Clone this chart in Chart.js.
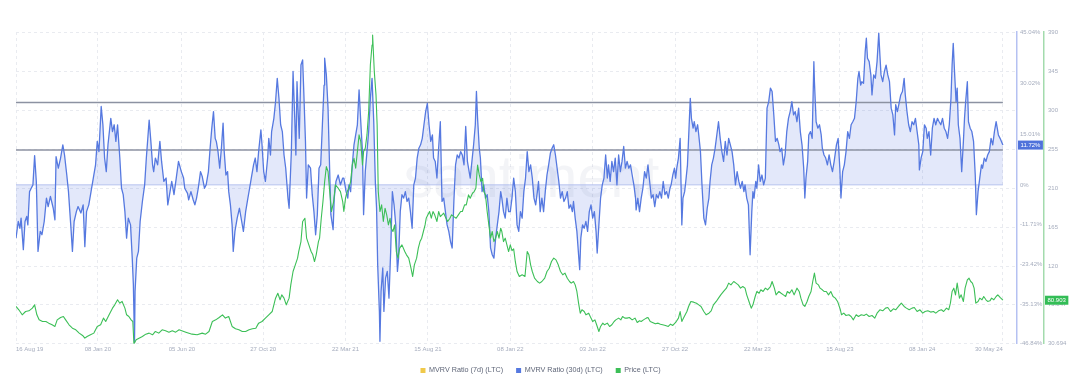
<!DOCTYPE html>
<html>
<head>
<meta charset="utf-8">
<title>LTC MVRV (30d) vs Price</title>
<script src="https://cdn.jsdelivr.net/npm/chart.js@4.4.1/dist/chart.umd.min.js"></script>
<style>
  html, body { margin: 0; padding: 0; background: #fff; }
</style>
</head>
<body>
<canvas id="chart" width="1081" height="386"></canvas>
<script>
// --- Data ---
// x values are days since the first date on the axis
const startDate = '2019-08-16';
const tickDates = ['2019-08-16', '2020-01-08', '2020-06-05', '2020-10-27', '2021-03-22', '2021-08-15',
    '2022-01-08', '2022-06-03', '2022-10-27', '2023-03-22', '2023-08-15', '2024-01-08', '2024-05-30'];

const mvrvTicks = [-46.84, -35.13, -23.42, -11.71, 0, 15.01, 30.02, 45.04];
const priceTicks = [30.694, 75.847, 120, 165, 210, 255, 300, 345, 390];

// horizontal reference levels on the MVRV axis (%)
const bandLevels = [24.3, 10.3];

// MVRV Ratio (7d) has no visible line in the picture
const mvrv7dDays = [];
const mvrv7d = [];

const mvrvDays = [
    0, 4, 7, 9, 13, 16, 19, 21, 24, 27,
    30, 33, 36, 39, 43, 46, 50, 54, 57, 61,
    66, 69, 71, 75, 79, 83, 86, 90, 93, 97,
    100, 103, 107, 110, 115, 119, 122, 125, 129, 133,
    137, 141, 144, 147, 151, 154, 157, 160, 163, 168,
    171, 174, 177, 180, 184, 187, 190, 193, 196, 199,
    203, 206, 208, 210, 211, 214, 217, 220, 224, 228,
    231, 236, 239, 242, 244, 247, 251, 255, 258, 262,
    266, 269, 273, 276, 280, 284, 288,
    293, 297, 299, 304, 306, 310, 314, 317, 320, 323,
    327, 330, 334, 337, 341, 344, 347, 350, 353, 355,
    358, 361, 364, 367, 369, 372, 375, 377, 380, 383,
    385, 388, 392, 396, 400, 403, 407, 410, 414, 417,
    421, 424, 427, 430, 434, 436, 439, 442, 446, 448,
    451, 453, 457, 460, 463, 466, 469, 472, 475, 478,
    482, 484, 488, 491, 494, 496, 498, 500, 502, 505,
    508, 510, 513, 515, 518, 522, 525, 528, 531, 534,
    537, 540, 543, 546, 547, 550, 553, 555, 558, 562,
    564, 567, 571, 575, 579,
    581, 585, 588, 590, 593, 596, 599, 602, 605, 608,
    611, 614, 616, 619, 622, 625, 628, 631, 634, 637,
    639, 641, 644, 645, 647, 650, 652, 655, 658, 661,
    664, 667, 670, 673, 676, 678, 681, 684, 687, 690,
    693, 696, 699, 702, 705, 708, 711, 714, 717, 720,
    723, 726, 729, 732, 735, 738, 740, 743, 746, 749,
    752, 755, 758, 761, 764, 767, 770, 773, 776, 779,
    782, 785, 788, 791, 794, 797, 800, 802, 805, 808,
    811, 814, 816, 818, 821, 823, 826, 829, 832, 835,
    838, 841, 844, 847, 850, 853, 856, 859, 861, 864,
    867, 870, 873,
    876, 879, 882, 885, 888, 891, 894, 897, 900, 903,
    906, 909, 912, 915, 918, 921, 924, 926, 929, 932,
    935, 938, 941, 944, 947, 950, 953, 956, 959, 962,
    965, 968, 971, 974, 977, 980, 983, 986, 988, 991,
    994, 997, 999, 1001, 1004, 1007, 1010, 1013, 1016, 1019,
    1022, 1025, 1028, 1030, 1033, 1036, 1039, 1042, 1045, 1048,
    1050, 1053, 1056, 1059, 1062, 1065, 1068, 1071, 1074, 1077,
    1080, 1083, 1086, 1089, 1092, 1095, 1098, 1099, 1102, 1105,
    1108, 1111, 1114, 1117, 1120, 1123, 1126, 1129, 1132, 1135,
    1138, 1141, 1144, 1147, 1150, 1153, 1156, 1159, 1161, 1164,
    1167,
    1169, 1171, 1174, 1177, 1180, 1182, 1185, 1187, 1190, 1193,
    1195, 1197, 1200, 1202, 1205, 1208, 1210, 1213, 1216, 1219,
    1222, 1225, 1228, 1230, 1233, 1236, 1239, 1242, 1245, 1248,
    1251, 1254, 1257, 1260, 1263, 1266, 1269, 1272, 1275, 1278,
    1281, 1284, 1287, 1290, 1292, 1295, 1298, 1301, 1304, 1306,
    1308, 1311, 1313, 1316, 1319, 1322, 1325, 1328, 1331, 1334,
    1337, 1340, 1343, 1346, 1349, 1352, 1354, 1357, 1360, 1363,
    1366, 1369, 1372, 1375, 1378, 1381, 1384, 1387, 1390, 1393,
    1396, 1398, 1400, 1403, 1405, 1408, 1411, 1414, 1415, 1418,
    1421, 1424, 1427, 1429, 1432, 1435, 1438, 1441, 1444, 1447,
    1450, 1454, 1457, 1460,
    1462, 1465, 1468, 1471, 1474, 1477, 1480, 1483, 1486, 1489,
    1492, 1494, 1497, 1499, 1502, 1505, 1507, 1509, 1512, 1515,
    1517, 1520, 1523, 1526, 1529, 1531, 1533, 1536, 1539, 1542,
    1545, 1548, 1551, 1554, 1557, 1559, 1562, 1565, 1568, 1571,
    1574, 1576, 1579, 1582, 1585, 1588, 1591, 1594, 1597, 1600,
    1601, 1604, 1607, 1610, 1613, 1615, 1618, 1621, 1624, 1627,
    1630, 1633, 1636, 1639, 1642, 1645, 1648, 1651, 1654, 1657,
    1659, 1661, 1663, 1666, 1668, 1670, 1673, 1676, 1679, 1681,
    1683, 1686, 1688, 1691, 1694, 1697, 1700, 1702, 1705, 1708,
    1711, 1713, 1716, 1719, 1722, 1725, 1728, 1731, 1734, 1737,
    1739, 1741, 1744, 1749
];

const mvrv30d = [
    -15.7, -10.8, -12.8, -9.8, -19.1, -10.8, -9.3, -11.8, -2.0, -1.0,
    0, 8.6, 1.0, -19.6, -13.7, -14.7, -10.8, -3.9, -6.4, -3.4,
    -6.9, -10.3, 8.3, 4.9, 7.9, 11.8, 8.8, 2.9, -2.0, -11.8,
    -19.6, -10.8, -7.9, -6.4, -8.3, -5.9, -18.2, -7.9, -5.9, -2.0,
    2.0, 5.9, 12.8, 9.8, 23.1, 17.7, 7.9, 3.9, 11.8, 19.6,
    15.7, 17.7, 12.8, 17.7, 7.9, -1.0, -2.9, -7.9, -15.7, -9.8,
    -11.8, -21.6, -29.4, -46.5, -31.4, -21.6, -19.6, -10.8, -4.9, 0,
    7.9, 19.1, 12.8, 5.9, 3.9, 7.9, 5.9, 12.8, 6.9, 1.0,
    2.0, -5.9, -2.0, 1.0, -2.9, 2.0, 6.9,
    3.9, 2.0, -1.0, -2.5, -4.4, -2.0, -4.4, -5.9, -3.9, -1.0,
    3.9, 2.5, -1.0, 0, 3.9, 10.8, 16.7, 21.6, 13.7, 12.8,
    9.8, 4.9, 10.8, 18.2, 9.8, 2.9, 3.9, -2.0, -5.9, -11.8,
    -19.6, -13.7, -9.8, -6.9, -10.8, -13.7, -7.9, -4.9, -1.0, 2.0,
    5.9, 7.9, 3.9, 9.8, 16.2, 11.8, 3.9, 1.0, 7.9, 13.7,
    8.8, 15.7, 19.6, 24.5, 31.4, 25.5, 17.7, 15.7, 8.8, 4.9,
    -3.9, -6.9, 9.8, 33.4, 19.6, 8.8, 30.4, 21.6, 13.7, 35.3,
    36.8, 27.5, 12.8, -3.9, 5.9, 4.9, -2.9, -7.9, -14.7, -8.8,
    4.9, 5.9, 17.7, 29.4, 37.3, 32.4, 22.6, 9.8, -8.8, -13.2,
    -3.9, 1.0, 2.9, 0, 2.0,
    2.0, -2.0, -3.9, 0, -2.0, 5.9, 11.8, 14.7, 17.7, 28.0,
    18.6, 9.8, -8.8, 3.9, 9.8, 15.7, 25.5, 31.4, 18.6, 0,
    -6.9, -23.6, -37.3, -46.1, -31.4, -24.5, -37.3, -27.5, -25.5, -33.4,
    -19.6, -2.0, -5.9, -11.8, -25.5, -21.6, -7.9, -2.9, -3.9, -2.0,
    -4.9, -3.9, -7.9, -12.8, 0, 2.0, 7.9, 10.8, 11.8, 13.7,
    17.7, 21.6, 24.0, 17.7, 12.8, 14.7, 7.9, 6.9, 2.0, 10.8,
    18.6, -4.9, -3.9, -7.9, -11.8, -13.7, -16.7, -18.6, -4.9, 5.9,
    8.8, 7.9, 9.8, 8.8, 5.9, 17.2, 6.9, 4.9, 2.0, 6.9,
    11.8, 17.7, 27.5, 19.6, 10.8, 7.9, -2.0, 0, -3.9, -2.9,
    -7.9, -18.6, -20.6, -21.6, -15.7, -11.8, -7.9, -2.0, -3.9, -7.9,
    -9.8, -3.9, -7.9,
    -7.9, -3.9, 2.0, -2.0, -11.8, -13.7, -7.9, -9.8, -2.0, 2.0,
    9.8, 3.9, 5.9, 2.0, -3.9, -5.9, -2.0, 1.0, -7.9, -3.9,
    -7.9, -2.0, 2.9, 5.9, 9.3, 10.8, 11.8, 8.8, 4.9, 1.0,
    -3.9, -2.0, -4.9, -3.9, -2.0, -6.9, -5.9, -7.9, -4.9, -9.8,
    -13.7, -20.6, -25.0, -15.7, -11.8, -12.8, -10.8, -13.7, -7.9, -5.9,
    -9.8, -7.9, -13.7, -20.1, -11.8, -3.9, 0, 2.0, 8.8, 2.0,
    5.9, 1.0, 6.9, 3.9, 7.9, 0, 8.8, 3.9, 6.9, 11.3,
    4.9, 6.9, 4.9, 5.9, 2.9, 0, -3.9, -7.4, -3.9, -7.9,
    -3.9, -1.0, 3.9, 2.0, 5.9, 1.0, -3.9, -2.9, -6.4, -2.9,
    -3.9, -2.0, -3.9, 1.0, -2.9, -2.0, -3.9, -1.0, 0, 2.9,
    4.9,
    2.0, 4.9, 7.9, 13.7, -11.8, -3.9, -2.0, 1.0, 5.9, 17.7,
    25.5, 19.6, 16.7, 18.6, 15.7, 17.7, 14.7, 9.8, -1.0, -9.8,
    -11.8, -6.9, -3.9, 1.0, 5.9, 7.9, 10.8, 14.7, 18.6, 13.7,
    9.8, 6.9, 12.8, 8.8, 13.7, 11.8, 9.8, 5.9, 0, 3.9,
    1.0, -1.0, 1.0, -2.0, 0, -3.9, -5.9, -20.6, -7.9, -2.0,
    -3.9, 1.0, -1.0, 5.9, 1.0, 2.9, 0, 2.0, 22.6, 24.5,
    28.5, 27.5, 20.6, 12.8, 13.7, 11.8, 9.8, 10.8, 5.9, 8.8,
    15.7, 19.6, 21.6, 24.5, 20.6, 21.6, 18.6, 22.6, 15.7, 11.8,
    4.9, -3.9, 2.0, 6.9, 14.7, 15.7, 13.7, 36.3, 30.4, 18.6,
    16.7, 17.7, 14.7, 10.8, 8.8, 7.9, 5.9, 8.8, 5.9, 3.9,
    6.9, 11.8, 13.7, 4.9,
    -3.9, 3.9, 5.9, 9.8, 15.7, 13.7, 17.7, 18.6, 19.6, 24.5,
    31.4, 33.4, 29.4, 30.4, 29.9, 39.3, 43.2, 37.3, 36.3, 32.4,
    26.5, 32.4, 31.4, 36.3, 44.7, 38.3, 32.4, 30.4, 33.4, 35.3,
    32.4, 30.4, 22.6, 20.6, 14.7, 23.6, 21.6, 24.0, 26.5, 27.5,
    31.4, 26.5, 21.6, 17.7, 15.7, 18.6, 17.7, 19.6, 15.7, 11.8,
    4.4, 7.9, 9.8, 17.7, 16.7, 13.7, 15.7, 8.8, 16.7, 19.6,
    17.7, 19.6, 18.6, 17.7, 19.6, 16.7, 15.7, 13.7, 17.7, 25.5,
    35.3, 41.7, 34.3, 24.5, 28.5, 17.7, 13.7, 3.9, 12.8, 19.6,
    24.5, 30.4, 18.6, 16.7, 15.7, 12.8, 2.9, -8.8, -2.0, 2.0,
    5.9, 4.9, 7.9, 6.9, 8.8, 9.8, 13.7, 11.8, 15.7, 18.6,
    16.7, 14.7, 13.7, 11.72
];

const priceDays = [
    0, 5, 11, 17, 23, 29, 33, 37, 41, 47,
    53, 58, 64, 69, 73, 79, 84, 88, 94, 100,
    106, 112, 118, 122, 126, 132, 138, 144, 150, 155,
    159, 165, 171, 175, 180, 184, 188, 193, 196, 200,
    204, 207, 209, 213, 218, 224, 230, 236, 242, 247,
    253, 259, 265, 271, 277, 283, 289,
    301, 312, 321, 330, 336, 342, 348, 354, 360, 366,
    371, 377, 383, 389, 395, 401, 407, 413, 419, 425,
    430, 436, 442, 448, 454, 460, 464, 468, 471, 475,
    479, 484, 487, 491, 495, 499, 501, 505, 508, 512,
    515, 519, 523, 526, 529, 532, 536, 538, 541, 544,
    547, 550, 553, 556, 559, 563, 566, 571, 575, 579,
    581, 584, 587, 590, 593, 596, 599, 602, 605, 608,
    611, 614, 616, 619, 622, 625, 628, 631, 632, 635,
    638, 640, 642, 645, 648, 651, 654, 657, 660, 663,
    665, 668, 671, 674, 677, 680, 684, 689, 692, 696,
    700, 703, 706, 710, 713, 716, 719, 722, 725, 727,
    730, 733, 736, 739, 742, 746, 749, 752, 755, 758,
    762, 765, 769, 772, 776, 780, 784, 788, 791, 795,
    798, 802, 805, 809, 812, 815, 818, 821, 824, 827,
    829, 832, 835, 838, 841, 844, 847, 850, 853, 856,
    859, 861, 864, 867, 870, 873,
    876, 879, 882, 885, 888, 892, 897, 902, 906, 909,
    912, 915, 919, 924, 928, 932, 937, 941, 945, 949,
    953, 957, 961, 965, 969, 973, 977, 981, 984, 988,
    991, 994, 997, 1000, 1003, 1007, 1010, 1015, 1019, 1022,
    1026, 1029, 1033, 1036, 1040, 1043, 1048, 1052, 1056, 1060,
    1063, 1068, 1072, 1075, 1079, 1083, 1087, 1092, 1097, 1101,
    1105, 1108, 1112, 1117, 1120, 1124, 1128, 1133, 1138, 1142,
    1146, 1151, 1156, 1160, 1164, 1169,
    1174, 1177, 1180, 1183, 1186, 1189, 1192, 1196, 1201, 1206,
    1210, 1214, 1219, 1223, 1228, 1232, 1236, 1241, 1245, 1249,
    1254, 1259, 1263, 1267, 1272, 1276, 1280, 1284, 1288, 1292,
    1295, 1299, 1303, 1306, 1310, 1313, 1317, 1320, 1324, 1328,
    1332, 1337, 1340, 1344, 1347, 1352, 1356, 1360, 1364, 1367,
    1371, 1375, 1379, 1384, 1388, 1391, 1395, 1398, 1402, 1405,
    1409, 1412, 1415, 1418, 1422, 1425, 1429, 1432, 1436, 1440,
    1444, 1448, 1452, 1456, 1461,
    1463, 1467, 1471, 1476, 1480, 1484, 1489, 1493, 1498, 1503,
    1507, 1512, 1517, 1522, 1526, 1531, 1536, 1541, 1545, 1550,
    1555, 1559, 1564, 1569, 1574, 1578, 1583, 1588, 1592, 1597,
    1602, 1607, 1611, 1616, 1621, 1626, 1630, 1635, 1640, 1644,
    1649, 1653, 1656, 1659, 1662, 1665, 1668, 1672, 1675, 1679,
    1682, 1686, 1689, 1692, 1695, 1698, 1701, 1705, 1708, 1712,
    1715, 1719, 1722, 1726, 1729, 1733, 1737, 1740, 1744, 1749
];

const priceLtc = [
    73.7, 69.9, 64.1, 67.9, 68.7, 71.8, 75.6, 64.1, 58.3, 56.4,
    56.4, 54.5, 52.6, 50.7, 58.3, 61.0, 62.2, 58.3, 52.6, 48.7,
    46.8, 43.0, 40.3, 37.2, 39.1, 41.1, 43.0, 50.7, 52.6, 60.3,
    56.4, 64.1, 71.8, 75.6, 81.4, 77.5, 79.5, 71.8, 64.1, 62.2,
    58.3, 56.4, 30.7, 35.3, 37.2, 39.1, 41.8, 43.0, 41.1, 44.9,
    43.0, 46.8, 45.7, 44.1, 45.7, 44.1, 46.8,
    44.1, 41.8, 41.1, 43.0, 41.8, 44.9, 56.4, 58.3, 61.0, 64.1,
    60.3, 62.2, 50.7, 48.0, 46.8, 44.9, 44.9, 46.8, 48.0, 48.7,
    54.5, 56.4, 60.3, 64.1, 67.9, 83.3, 89.0, 81.4, 87.1, 83.3,
    75.6, 83.3, 98.6, 114.0, 121.7, 129.4, 137.0, 148.5, 171.6, 175.4,
    152.4, 144.7, 137.0, 133.2, 125.5, 133.2, 148.5, 152.4, 175.4, 194.6,
    217.6, 234.9, 229.2, 206.1, 183.1, 194.6, 213.8, 210.0, 206.1, 194.6,
    183.1, 198.5, 206.1, 210.0, 217.6, 236.8, 244.5, 233.0, 252.2, 271.4,
    263.7, 236.8, 252.2, 256.0, 271.4, 298.3, 352.0, 375.0, 386.6, 344.3,
    317.5, 282.9, 206.1, 183.1, 190.8, 171.6, 186.9, 179.3, 167.7, 175.4,
    163.9, 160.1, 167.7, 137.0, 129.4, 140.9, 144.7, 137.0, 133.2, 129.4,
    117.8, 108.2, 121.7, 129.4, 140.9, 148.5, 152.4, 160.1, 167.7, 175.4,
    179.3, 183.1, 175.4, 183.1, 179.3, 171.6, 183.1, 177.3, 179.3, 181.2,
    175.4, 171.6, 175.4, 179.3, 177.3, 175.4, 179.3, 183.1, 183.1, 190.8,
    190.8, 202.3, 198.5, 204.2, 206.1, 210.0, 236.8, 225.3, 217.6, 221.5,
    206.1, 202.3, 183.1, 167.7, 152.4, 160.1, 148.5, 152.4, 160.1, 152.4,
    163.9, 160.1, 148.5, 152.4, 144.7, 137.0,
    144.7, 138.0, 140.0, 125.0, 114.0, 108.2, 110.2, 108.2, 137.0, 133.2,
    121.7, 114.0, 106.3, 102.5, 100.6, 102.5, 106.3, 114.0, 117.8, 125.5,
    129.4, 127.4, 121.7, 114.0, 110.2, 112.1, 106.3, 102.5, 100.6, 102.5,
    98.6, 91.0, 77.5, 66.0, 69.9, 67.9, 64.1, 66.0, 60.3, 56.4,
    58.3, 52.6, 44.9, 50.7, 54.5, 52.6, 54.5, 50.7, 52.6, 56.4,
    58.3, 60.3, 58.3, 62.2, 60.3, 60.3, 61.0, 58.3, 60.3, 55.3,
    57.2, 56.4, 58.3, 60.3, 61.0, 56.4, 55.3, 53.7, 54.5, 53.3,
    52.6, 51.8, 50.7, 53.3, 51.8, 55.3,
    60.3, 67.9, 56.4, 60.3, 64.1, 67.9, 73.7, 79.5, 78.7, 77.5,
    75.6, 73.7, 67.9, 64.1, 66.0, 68.7, 75.6, 79.5, 83.3, 87.1,
    91.0, 94.8, 100.6, 98.6, 102.5, 100.6, 98.6, 94.8, 96.7, 94.8,
    87.1, 79.5, 71.8, 75.6, 85.2, 91.0, 89.0, 92.9, 91.0, 94.8,
    92.9, 96.7, 102.5, 94.8, 87.1, 91.0, 89.0, 87.1, 85.2, 91.0,
    89.0, 92.9, 87.1, 94.8, 91.0, 83.3, 75.6, 73.7, 79.5, 85.2,
    91.0, 102.5, 112.1, 100.6, 98.6, 94.8, 92.9, 91.0, 91.0, 87.1,
    91.0, 85.2, 83.3, 79.5, 69.9,
    64.1, 66.0, 63.3, 64.1, 62.2, 58.3, 64.1, 62.2, 64.1, 63.3,
    64.9, 62.2, 63.3, 60.3, 66.0, 69.9, 68.7, 71.8, 72.5, 67.9,
    71.0, 69.9, 73.7, 77.5, 73.7, 71.8, 69.9, 71.8, 72.5, 67.9,
    69.9, 66.0, 67.9, 68.7, 67.2, 67.9, 66.0, 68.7, 69.9, 67.9,
    71.8, 69.9, 77.5, 91.0, 94.8, 87.1, 100.6, 83.3, 87.1, 79.5,
    94.8, 104.4, 106.3, 102.5, 100.6, 94.8, 77.5, 79.5, 83.3, 81.4,
    85.2, 81.4, 79.5, 80.2, 83.3, 81.4, 85.2, 87.1, 84.1, 80.903
];

// --- helpers ---
const MONTHS = ['Jan', 'Feb', 'Mar', 'Apr', 'May', 'Jun', 'Jul', 'Aug', 'Sep', 'Oct', 'Nov', 'Dec'];
const dayOf = d => Math.round((Date.parse(d) - Date.parse(startDate)) / 86400000);
const fmtDate = d => {
    const t = new Date(d + 'T00:00:00Z');
    return String(t.getUTCDate()).padStart(2, '0') + ' ' + MONTHS[t.getUTCMonth()] + ' ' + String(t.getUTCFullYear()).slice(2);
};
const toXY = (days, vals) => days.map((d, i) => ({ x: d, y: vals[i] }));

const tickDays = tickDates.map(dayOf);
const tickLabels = tickDates.map(fmtDate);
const lastDay = mvrvDays[mvrvDays.length - 1];
const lastMvrv = mvrv30d[mvrv30d.length - 1];
const lastPrice = priceLtc[priceLtc.length - 1];

const FONT = "'Liberation Sans', Arial, sans-serif";
const AXIS_TEXT = '#a5acbd';
const GRID = '#e9ebf0';

Chart.defaults.font.family = FONT;

// watermark + value badges on the axes
const overlayPlugin = {
    id: 'overlay',
    beforeDatasetsDraw(chart) {
        const { ctx, chartArea } = chart;
        ctx.save();
        ctx.font = '59px ' + FONT;
        ctx.fillStyle = 'rgba(120, 132, 165, 0.09)';
        ctx.textAlign = 'center';
        ctx.textBaseline = 'alphabetic';
        ctx.fillText('santiment', chartArea.left + chartArea.width * 0.515, chartArea.top + chartArea.height * 0.53);
        ctx.restore();
    },
    afterDraw(chart) {
        const { ctx } = chart;
        const badge = (scale, value, text, color) => {
            const y = scale.getPixelForValue(value);
            ctx.save();
            ctx.font = '6px ' + FONT;
            const w = ctx.measureText(text).width + 5;
            ctx.fillStyle = color;
            ctx.fillRect(scale.left + 1, y - 4.5, w, 9);
            ctx.fillStyle = '#ffffff';
            ctx.textAlign = 'left';
            ctx.textBaseline = 'middle';
            ctx.fillText(text, scale.left + 3.5, y + 0.5);
            ctx.restore();
        };
        badge(chart.scales.y, lastMvrv, lastMvrv + '%', '#4f72db');
        badge(chart.scales.y1, lastPrice, String(lastPrice), '#33bd56');
    }
};

const levelLine = v => ({
    label: 'level',
    data: [{ x: 0, y: v }, { x: lastDay, y: v }],
    borderColor: '#8c92a2',
    borderWidth: 1.5,
    yAxisID: 'y',
    order: 2
});

new Chart(document.getElementById('chart'), {
    type: 'line',
    data: {
        datasets: [
            {
                label: 'MVRV Ratio (7d) (LTC)',
                data: toXY(mvrv7dDays, mvrv7d),
                borderColor: '#f0c94a',
                backgroundColor: '#f0c94a',
                yAxisID: 'y',
                order: 1
            },
            {
                label: 'MVRV Ratio (30d) (LTC)',
                data: toXY(mvrvDays, mvrv30d),
                borderColor: '#5679e0',
                backgroundColor: 'rgba(86, 121, 224, 0.17)',
                borderWidth: 1.3,
                fill: 'origin',
                yAxisID: 'y',
                order: 1
            },
            {
                label: 'Price (LTC)',
                data: toXY(priceDays, priceLtc),
                borderColor: '#3cbf57',
                backgroundColor: '#3cbf57',
                borderWidth: 1.1,
                yAxisID: 'y1',
                order: 0
            },
            ...bandLevels.map(levelLine),
            {
                label: 'zero',
                data: [{ x: 0, y: 0 }, { x: lastDay, y: 0 }],
                borderColor: '#b6c3ef',
                borderWidth: 1,
                yAxisID: 'y',
                order: 3
            }
        ]
    },
    options: {
        responsive: false,
        devicePixelRatio: 1,
        animation: false,
        events: [],
        layout: { padding: { left: 0, top: 32, right: 0, bottom: 2 } },
        elements: {
            point: { radius: 0 },
            line: { tension: 0, borderJoinStyle: 'round' }
        },
        plugins: {
            tooltip: { enabled: false },
            filler: { drawTime: 'beforeDatasetsDraw' },
            legend: {
                position: 'bottom',
                labels: {
                    boxWidth: 5,
                    boxHeight: 5,
                    padding: 13,
                    color: '#5e6577',
                    font: { size: 7.2 },
                    generateLabels: chart => Chart.defaults.plugins.legend.labels.generateLabels(chart)
                        .filter(item => item.datasetIndex < 3)
                        .sort((a, b) => a.datasetIndex - b.datasetIndex)
                        .map(item => Object.assign(item, { fillStyle: item.strokeStyle, lineWidth: 0 }))
                }
            }
        },
        scales: {
            x: {
                type: 'linear',
                min: 0,
                max: lastDay + 25,
                afterBuildTicks: s => { s.ticks = tickDays.map(v => ({ value: v })); },
                afterFit: s => { s.height = 10; },
                ticks: {
                    callback: (v, i) => tickLabels[i],
                    align: 'inner',
                    autoSkip: false,
                    maxRotation: 0,
                    padding: 2,
                    color: AXIS_TEXT,
                    font: { size: 6 }
                },
                grid: { color: GRID, drawTicks: false },
                border: { display: false, dash: [3, 3] }
            },
            // empty left gutter so the plot starts 16px in
            gutter: {
                type: 'linear',
                position: 'left',
                afterFit: s => { s.width = 16; },
                ticks: { display: false },
                grid: { display: false, drawTicks: false },
                border: { display: false }
            },
            y: {
                position: 'right',
                min: mvrvTicks[0],
                max: mvrvTicks[mvrvTicks.length - 1],
                afterBuildTicks: s => { s.ticks = mvrvTicks.map(v => ({ value: v })); },
                afterFit: s => { s.width = 27; },
                ticks: {
                    callback: v => v + '%',
                    padding: 3,
                    color: AXIS_TEXT,
                    font: { size: 6 }
                },
                grid: { display: false, drawTicks: false },
                border: { display: true, color: '#b5c1f2', width: 1.5 }
            },
            y1: {
                position: 'right',
                min: priceTicks[0],
                max: priceTicks[priceTicks.length - 1],
                afterBuildTicks: s => { s.ticks = priceTicks.map(v => ({ value: v })); },
                afterFit: s => { s.width = 37; },
                ticks: {
                    callback: v => String(v),
                    padding: 4,
                    color: AXIS_TEXT,
                    font: { size: 6 }
                },
                grid: { color: GRID, drawTicks: false },
                border: { display: true, color: '#a3dbad', width: 1.5, dash: [3, 3] }
            }
        }
    },
    plugins: [overlayPlugin]
});
</script>
</body>
</html>
